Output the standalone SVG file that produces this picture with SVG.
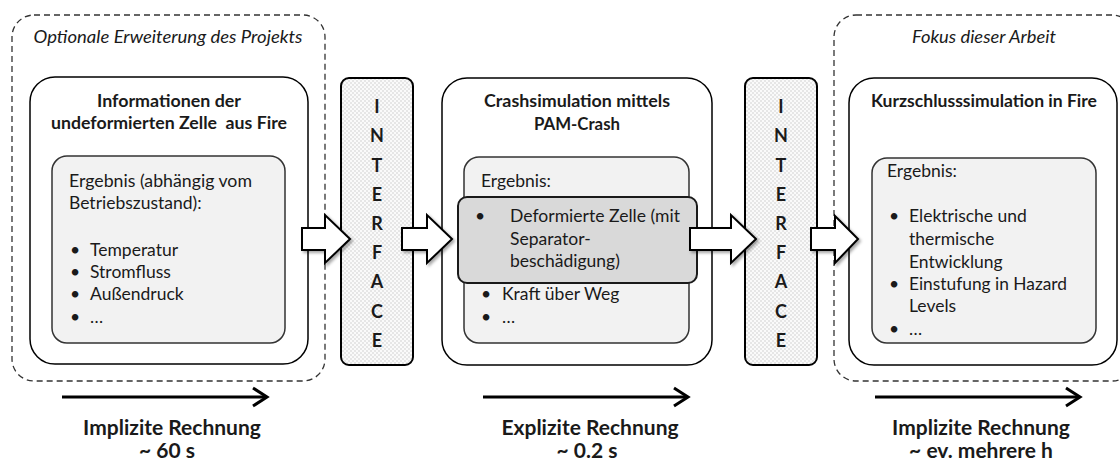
<svg xmlns="http://www.w3.org/2000/svg" width="1120" height="461" viewBox="0 0 1120 461">
<style>
text{font-family:Lato,"Open Sans","Liberation Sans",sans-serif;fill:#1a1a1a;}
.t{font-size:17.5px;}
.b{font-size:16.5px;font-weight:bold;}
.i{font-size:17px;font-style:italic;}
.bl{font-size:21px;font-weight:bold;}
.lt{font-size:18px;font-weight:bold;}
.dash{fill:none;stroke:#333;stroke-width:1.3;stroke-dasharray:6 4;}
.main{fill:#fff;stroke:#000;stroke-width:1.5;}
.inner{fill:#f2f2f2;stroke:#333;stroke-width:1.5;}
.dark{fill:#d9d9d9;stroke:#1a1a1a;stroke-width:2;}
.iface{fill:url(#chk);stroke:#000;stroke-width:2;}
.blk{fill:#fff;stroke:#000;stroke-width:2;stroke-linejoin:miter;filter:url(#sh);}
.line{fill:none;stroke:#000;stroke-width:3;}
</style>
<defs>
<pattern id="chk" width="4" height="4" patternUnits="userSpaceOnUse">
<rect width="4" height="4" fill="#fafafa"/>
<rect width="2" height="2" fill="#e6e6e6"/>
<rect x="2" y="2" width="2" height="2" fill="#e6e6e6"/>
</pattern>
<filter id="sh" x="-20%" y="-20%" width="150%" height="150%">
<feDropShadow dx="2" dy="2" stdDeviation="1.5" flood-color="#000" flood-opacity="0.35"/>
</filter>
</defs>

<g id="scope-optional">
<rect class="dash" x="12" y="15" width="313" height="366" rx="22"/>
<text class="i" x="168" y="43" text-anchor="middle" textLength="269" lengthAdjust="spacingAndGlyphs">Optionale Erweiterung des Projekts</text>
</g>
<g id="scope-focus">
<rect class="dash" x="834" y="15" width="300" height="366" rx="22"/>
<text class="i" x="984" y="43" text-anchor="middle" textLength="144" lengthAdjust="spacingAndGlyphs">Fokus dieser Arbeit</text>
</g>

<g id="node-info">
<rect class="main" x="30" y="77" width="278" height="287" rx="25"/>
<text class="b" x="169" y="107" text-anchor="middle" textLength="144" lengthAdjust="spacingAndGlyphs">Informationen der</text>
<text class="b" x="169" y="129" text-anchor="middle" textLength="236" lengthAdjust="spacingAndGlyphs" xml:space="preserve">undeformierten Zelle  aus Fire</text>
<rect class="inner" x="52" y="156" width="233" height="187" rx="15"/>
<text class="t" x="69" y="187" textLength="183" lengthAdjust="spacingAndGlyphs">Ergebnis (abhängig vom</text>
<text class="t" x="69" y="209">Betriebszustand):</text>
<text class="t" x="70" y="256">•</text><text class="t" x="90" y="256">Temperatur</text>
<text class="t" x="70" y="278">•</text><text class="t" x="90" y="278">Stromfluss</text>
<text class="t" x="70" y="300">•</text><text class="t" x="90" y="300">Außendruck</text>
<text class="t" x="70" y="323">•</text><text class="t" x="90" y="323">…</text>
</g>

<g id="interface-1">
<rect class="iface" x="341" y="78" width="72" height="287" rx="8"/>
<text class="lt" x="377" y="113" text-anchor="middle">I</text>
<text class="lt" x="377" y="142" text-anchor="middle">N</text>
<text class="lt" x="377" y="172" text-anchor="middle">T</text>
<text class="lt" x="377" y="201" text-anchor="middle">E</text>
<text class="lt" x="377" y="230" text-anchor="middle">R</text>
<text class="lt" x="377" y="259" text-anchor="middle">F</text>
<text class="lt" x="377" y="288" text-anchor="middle">A</text>
<text class="lt" x="377" y="318" text-anchor="middle">C</text>
<text class="lt" x="377" y="347" text-anchor="middle">E</text>
</g>

<g id="node-crash">
<rect class="main" x="442" y="78" width="270" height="287" rx="25"/>
<text class="b" x="577" y="107" text-anchor="middle" textLength="186" lengthAdjust="spacingAndGlyphs">Crashsimulation mittels</text>
<text class="b" x="577" y="130" text-anchor="middle" textLength="86" lengthAdjust="spacingAndGlyphs">PAM-Crash</text>
<rect class="inner" x="464" y="157" width="225" height="186" rx="15"/>
<text class="t" x="481" y="187">Ergebnis:</text>
<rect class="dark" x="458" y="197" width="239" height="86" rx="9"/>
<text class="t" x="475" y="222">•</text>
<text class="t" x="510" y="222" textLength="170" lengthAdjust="spacingAndGlyphs">Deformierte Zelle (mit</text>
<text class="t" x="510" y="245">Separator-</text>
<text class="t" x="510" y="267">beschädigung)</text>
<text class="t" x="481" y="300">•</text><text class="t" x="502" y="300">Kraft über Weg</text>
<text class="t" x="481" y="323">•</text><text class="t" x="502" y="323">…</text>
</g>

<g id="interface-2">
<rect class="iface" x="745" y="78" width="72" height="287" rx="8"/>
<text class="lt" x="781" y="113" text-anchor="middle">I</text>
<text class="lt" x="781" y="142" text-anchor="middle">N</text>
<text class="lt" x="781" y="172" text-anchor="middle">T</text>
<text class="lt" x="781" y="201" text-anchor="middle">E</text>
<text class="lt" x="781" y="230" text-anchor="middle">R</text>
<text class="lt" x="781" y="259" text-anchor="middle">F</text>
<text class="lt" x="781" y="288" text-anchor="middle">A</text>
<text class="lt" x="781" y="318" text-anchor="middle">C</text>
<text class="lt" x="781" y="347" text-anchor="middle">E</text>
</g>

<g id="node-short">
<rect class="main" x="849" y="78" width="268" height="287" rx="25"/>
<text class="b" x="984" y="107" text-anchor="middle" textLength="226" lengthAdjust="spacingAndGlyphs">Kurzschlusssimulation in Fire</text>
<rect class="inner" x="872" y="158" width="224" height="185" rx="15"/>
<text class="t" x="887" y="177">Ergebnis:</text>
<text class="t" x="889" y="222">•</text><text class="t" x="909" y="222">Elektrische und</text>
<text class="t" x="909" y="245">thermische</text>
<text class="t" x="909" y="268">Entwicklung</text>
<text class="t" x="889" y="290">•</text><text class="t" x="909" y="290" textLength="158" lengthAdjust="spacingAndGlyphs">Einstufung in Hazard</text>
<text class="t" x="909" y="312">Levels</text>
<text class="t" x="889" y="335">•</text><text class="t" x="909" y="335">…</text>
</g>

<g id="connectors">
<polygon class="blk" points="302,228 325,228 325,215 350,239 325,263 325,250 302,250"/>
<polygon class="blk" points="402,228 427,228 427,215 452,239 427,263 427,250 402,250"/>
<polygon class="blk" points="690,228 731,228 731,215 756,239 731,263 731,250 690,250"/>
<polygon class="blk" points="811,228 835,228 835,216 858,239 835,263 835,250 811,250"/>
</g>

<g id="timeline">
<line class="line" x1="62" y1="397" x2="266" y2="397"/>
<polyline class="line" points="253,388 267,397 253,406"/>
<text class="bl" x="172" y="435" text-anchor="middle">Implizite Rechnung</text>
<text class="bl" x="167" y="458" text-anchor="middle">~ 60 s</text>
<line class="line" x1="483" y1="397" x2="687" y2="397"/>
<polyline class="line" points="674,388 688,397 674,406"/>
<text class="bl" x="590" y="435" text-anchor="middle">Explizite Rechnung</text>
<text class="bl" x="587" y="458" text-anchor="middle">~ 0.2 s</text>
<line class="line" x1="875" y1="397" x2="1079" y2="397"/>
<polyline class="line" points="1066,388 1080,397 1066,406"/>
<text class="bl" x="981" y="435" text-anchor="middle">Implizite Rechnung</text>
<text class="bl" x="981" y="458" text-anchor="middle">~ ev. mehrere h</text>
</g>
</svg>
